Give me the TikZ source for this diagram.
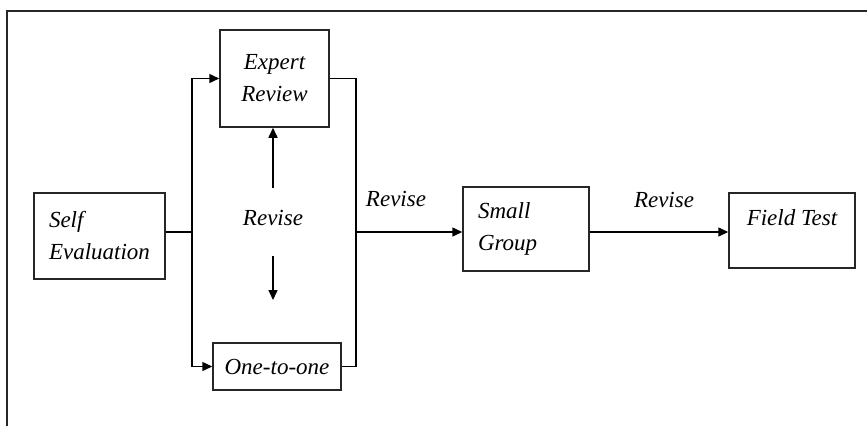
\documentclass[tikz,border=0pt]{standalone}
\usepackage{fontspec}
\setmainfont{Liberation Serif}
\usetikzlibrary{arrows.meta}

\begin{document}
\begin{tikzpicture}[
    x=1pt, y=-1pt,
    font=\fontsize{23}{32}\selectfont\itshape,
    line width=1.5pt,
    >={Triangle[length=10pt,width=9pt]},
    stage/.style={
        rectangle, draw=black!85, inner sep=0pt, align=center
    },
    stageleft/.style={
        stage, align=left, inner xsep=15pt
    },
    label/.style={inner sep=1pt}
]

\useasboundingbox (0,0) rectangle (867,426);

% frame
\draw[black!85] (7,426) -- (7,11) -- (867,11);

% stages
\node[stageleft, text width=101pt, minimum height=86pt] (self) at (99.5,236) {Self\\Evaluation};
\node[stage, minimum width=109pt, minimum height=97pt] (expert) at (274.5,78.5) {Expert\\Review};
\node[stage, minimum width=128pt, minimum height=47pt] (one) at (277,366.5) {One-to-one};
\node[stageleft, text width=96pt, minimum height=84pt] (small) at (526,229) {Small\\Group};
\node[stage, minimum width=126pt, minimum height=75pt] (field) at (792,230.5) {Field Test\\[-6pt]~};

% revise labels
\node[label] (revmid) at (273,218) {Revise};
\node[label] (revone) at (396,199) {Revise};
\node[label] (revtwo) at (664,200) {Revise};

\coordinate (split) at (192,232);
\coordinate (join) at (356,232);
\coordinate (upA) at (273,188);
\coordinate (dnA) at (273,256);
\coordinate (dnB) at (273,300);

% connectors
\draw (split -| self.east) -- (split);
\draw[->] (split) |- (expert.west);
\draw[->] (split) |- (one.west);
\draw (expert.east) -| (join);
\draw (one.east) -| (join);
\draw[->] (join) -- (join -| small.west);
\draw[->] (join -| small.east) -- (join -| field.west);
\draw[->] (upA) -- (upA |- expert.south);
\draw[->] (dnA) -- (dnB);

\end{tikzpicture}
\end{document}
